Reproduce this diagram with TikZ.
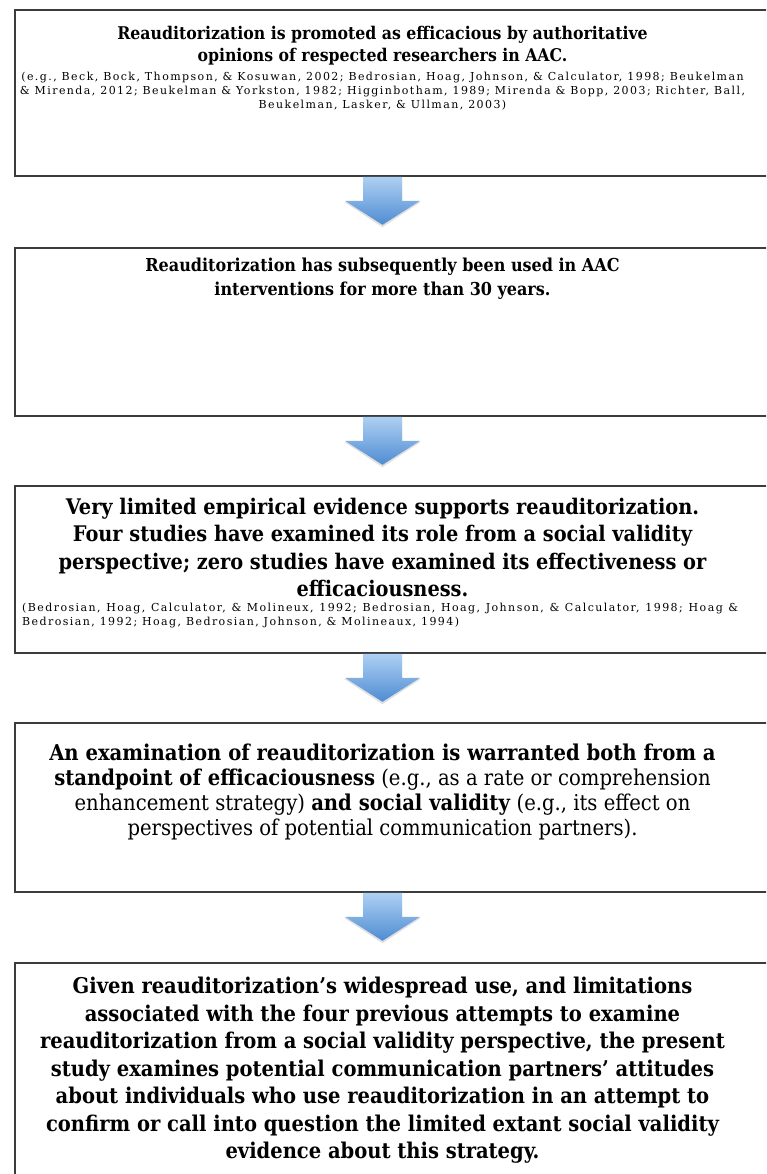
\documentclass[tikz,border=0pt]{standalone}
\usepackage{fontspec}
\setmainfont{DejaVu Serif Condensed}
\newfontfamily\citefont[LetterSpace=13]{DejaVu Serif}
\usetikzlibrary{calc,shadows}
\definecolor{arrtop}{RGB}{174,208,243}
\definecolor{arrbot}{RGB}{78,140,210}
\definecolor{boxline}{RGB}{60,60,60}
\begin{document}
\begin{tikzpicture}[x=1pt,y=1pt,
  flowbox/.style={draw=boxline, line width=1.8pt, fill=white, rectangle, inner sep=0pt, anchor=north west},
  titletext/.style={align=center, inner sep=0pt, anchor=north},
  citetext/.style={inner sep=0pt, anchor=north},
  blockarrow/.pic={
    \fill[black, opacity=0.12] (-19.5,-1) -- (19.5,-1) -- (19.5,-25) -- (38.5,-25) -- (0,-50.5) -- (-38.5,-25) -- (-19.5,-25) -- cycle;
    \shade[top color=arrtop, bottom color=arrbot] (-19.5,0) -- (19.5,0) -- (19.5,-24) -- (37.5,-24) -- (0,-48) -- (-37.5,-24) -- (-19.5,-24) -- cycle;
  }
]
\useasboundingbox (0,0) rectangle (766,-1174);
\clip (0,0) rectangle (766,-1174);
\fill[white] (0,0) rectangle (766,-1174);
\coordinate (ax) at (382.5,0);

\node[flowbox, minimum width=790, minimum height=166] (box1) at (14,-9) {};
\node[flowbox, minimum width=790, minimum height=168] (box2) at (14,-247) {};
\node[flowbox, minimum width=790, minimum height=167] (box3) at (14,-485) {};
\node[flowbox, minimum width=790, minimum height=169] (box4) at (14,-722) {};
\node[flowbox, minimum width=790, minimum height=260] (box5) at (14,-962) {};

\pic at (box1.south -| ax) {blockarrow};
\pic at (box2.south -| ax) {blockarrow};
\pic at (box3.south -| ax) {blockarrow};
\pic at (box4.south -| ax) {blockarrow};

\node[titletext, font=\fontsize{17.5}{22}\selectfont\bfseries] (t1) at ($(box1.north -| ax)+(0,-17)$)
  {Reauditorization is promoted as efficacious by authoritative\\opinions of respected researchers in AAC.};
\node[citetext, align=center, font=\fontsize{11}{14}\citefont] (c1) at ($(box1.north -| ax)+(0,-62.5)$)
  {(e.g., Beck, Bock, Thompson, \& Kosuwan, 2002; Bedrosian, Hoag, Johnson, \& Calculator, 1998; Beukelman\\
   \& Mirenda, 2012; Beukelman \& Yorkston, 1982; Higginbotham, 1989; Mirenda \& Bopp, 2003; Richter, Ball,\\
   Beukelman, Lasker, \& Ullman, 2003)};

\node[titletext, font=\fontsize{17.8}{24}\selectfont\bfseries] (t2) at ($(box2.north -| ax)+(0,-11)$)
  {Reauditorization has subsequently been used in AAC\\interventions for more than 30 years.};

\node[titletext, font=\fontsize{21.5}{27.3}\selectfont\bfseries] (t3) at ($(box3.north -| ax)+(0,-13)$)
  {Very limited empirical evidence supports reauditorization.\\Four studies have examined its role from a social validity\\perspective; zero studies have examined its effectiveness or\\efficaciousness.};
\node[citetext, anchor=north west, text width=716, align=justify, font=\fontsize{11}{14}\citefont] (c3) at ($(box3.north west)+(8,-118)$)
  {(Bedrosian, Hoag, Calculator, \& Molineux, 1992; Bedrosian, Hoag, Johnson, \& Calculator, 1998; Hoag \&\linebreak
   Bedrosian, 1992; Hoag, Bedrosian, Johnson, \& Molineaux, 1994)};

\node[titletext, font=\fontsize{21.8}{25}\selectfont] (t4) at ($(box4.north -| ax)+(0,-21.5)$)
  {\textbf{An examination of reauditorization is warranted both from a}\\
   \textbf{standpoint of efficaciousness} (e.g., as a rate or comprehension\\
   enhancement strategy) \textbf{and social validity} (e.g., its effect on\\
   perspectives of potential communication partners).};

\node[titletext, font=\fontsize{21.7}{27.5}\selectfont\bfseries] (t5) at ($(box5.north -| ax)+(0,-15)$)
  {Given reauditorization’s widespread use, and limitations\\
   associated with the four previous attempts to examine\\
   reauditorization from a social validity perspective, the present\\
   study examines potential communication partners’ attitudes\\
   about individuals who use reauditorization in an attempt to\\
   confirm or call into question the limited extant social validity\\
   evidence about this strategy.};
\end{tikzpicture}
\end{document}
